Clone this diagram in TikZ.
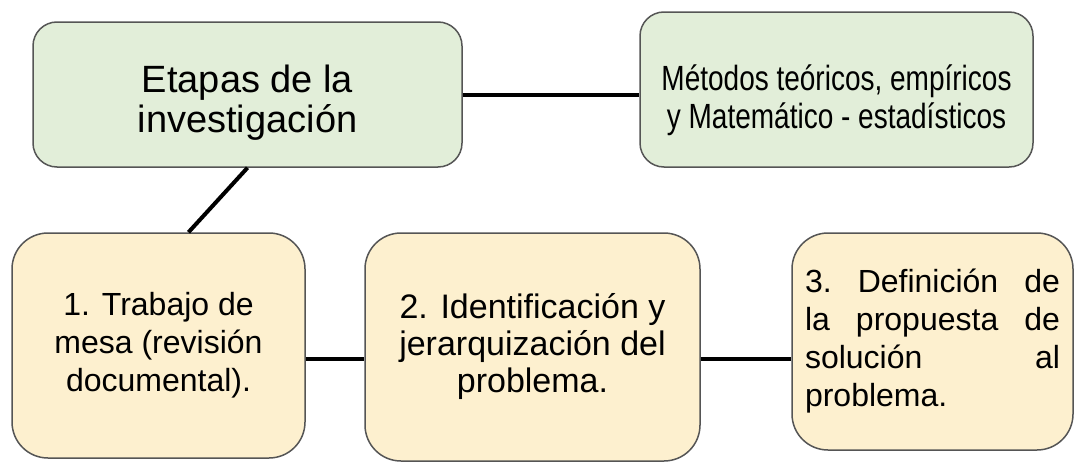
\documentclass[tikz,border=0pt]{standalone}
\usepackage{fontspec}
\setmainfont{Liberation Sans}
\newfontfamily\angosta[FakeStretch=0.8]{Liberation Sans}
\definecolor{verdecaja}{RGB}{226,238,217}
\definecolor{cremacaja}{RGB}{253,240,207}
\definecolor{bordecaja}{RGB}{85,85,85}

\begin{document}
\begin{tikzpicture}[x=1pt,y=-1pt,
    caja/.style={draw=bordecaja,line width=1.5pt,align=center,inner sep=0pt},
    verde/.style={caja,fill=verdecaja,rounded corners=24pt},
    amarilla/.style={caja,fill=cremacaja,rounded corners=36pt,
      font={\fontsize{32}{38}\selectfont}},
    enlace/.style={line width=4pt}]
  \useasboundingbox (0,0) rectangle (1083,463);

  \node[verde,minimum width=429pt,minimum height=145pt,
    font={\fontsize{38}{40}\selectfont}] (etapas) at (247.5,94.5)
    {\rule{0pt}{44pt}Etapas de la\\investigación};
  \node[verde,minimum width=393pt,minimum height=155pt,
    font={\angosta\fontsize{35}{38}\selectfont}] (metodos) at (836.5,89.5)
    {\rule{0pt}{48pt}Métodos teóricos, empíricos\\y Matemático - estadísticos};

  \node[amarilla,minimum width=293pt,minimum height=225pt] (1) at (158.5,345.5)
    {1. Trabajo de\\mesa (revisión\\documental).};
  \node[amarilla,minimum width=335pt,minimum height=228pt,
    font={\fontsize{34}{37}\selectfont}] (2) at (532.5,347)
    {2. Identificación y\\jerarquización del\\problema.};
  \node[amarilla,minimum width=281pt,minimum height=217pt,
    text width=255pt,align=left] (3) at (932.5,341.5)
    {3.\hfill Definición\hfill de\\la\hfill propuesta\hfill de\\solución\hfill al\\problema.};

  \draw[enlace] (etapas.east) -- (etapas.east -| metodos.west);
  \draw[enlace] (etapas.south) -- ([xshift=30pt]1.north);
  \draw[enlace] ([yshift=-13.5pt]1.east) -- ([yshift=-13.5pt]1.east -| 2.west);
  \draw[enlace] ([yshift=-12pt]2.east) -- ([yshift=-12pt]2.east -| 3.west);
\end{tikzpicture}
\end{document}
